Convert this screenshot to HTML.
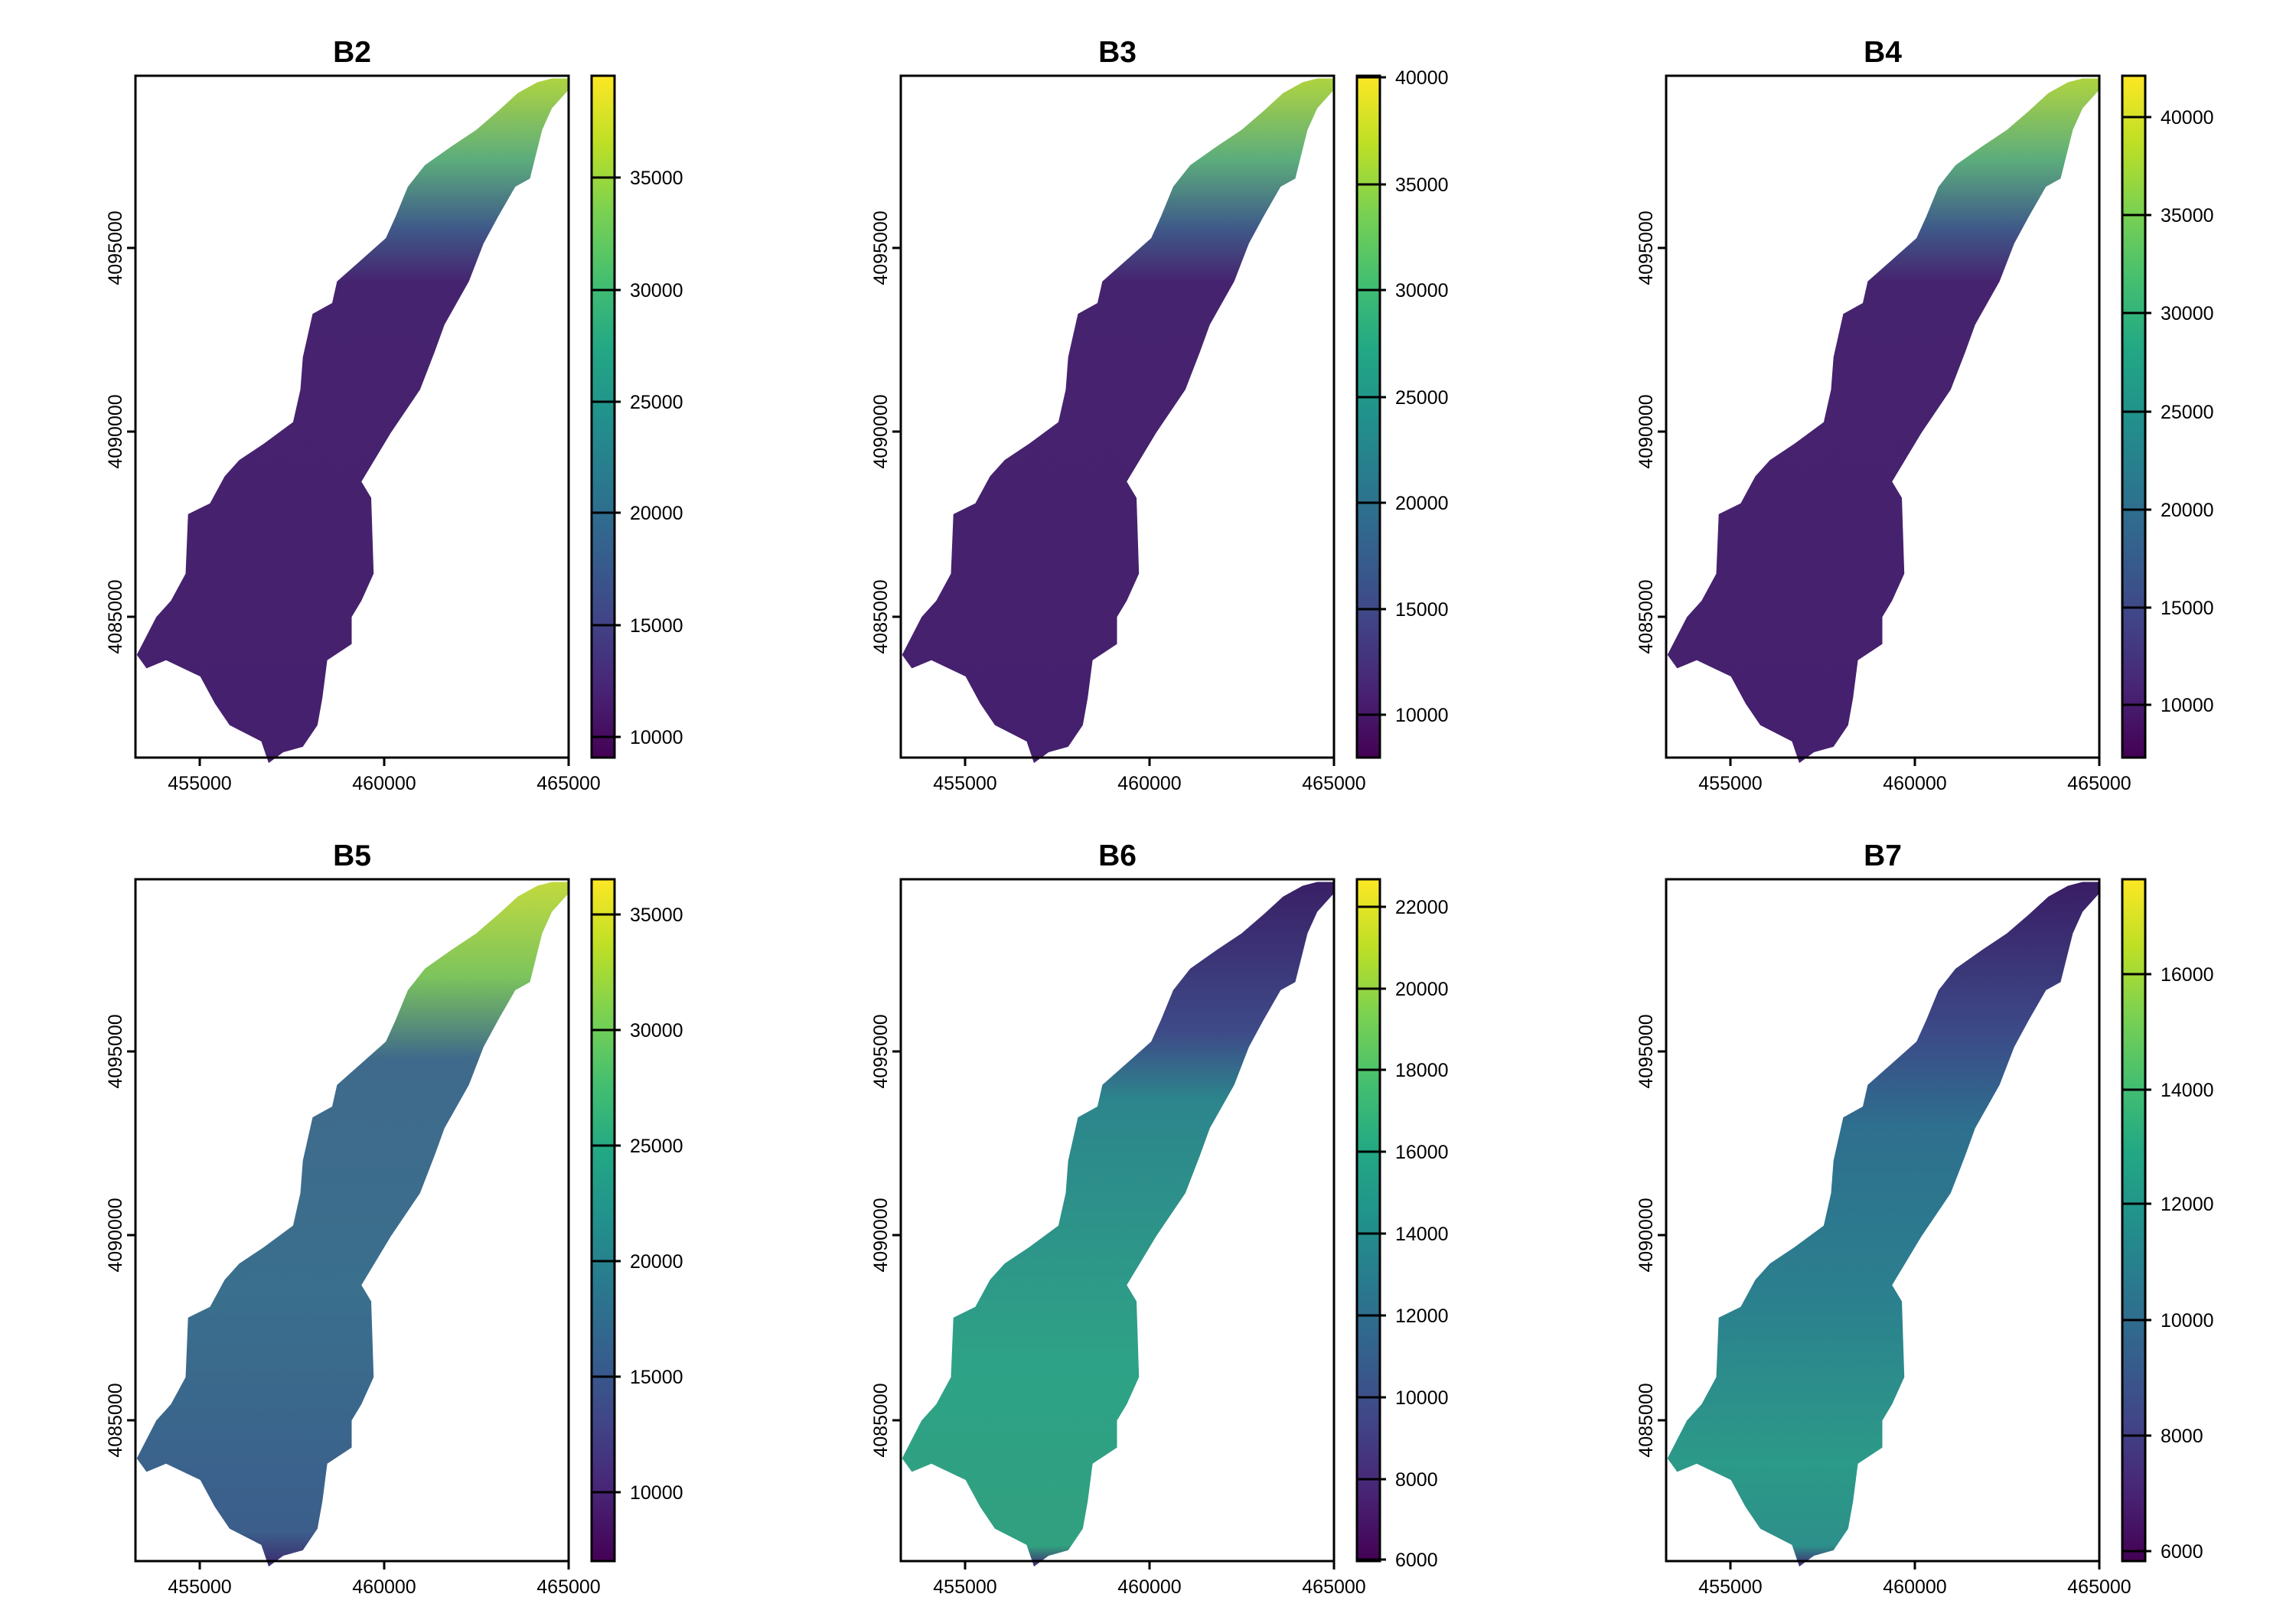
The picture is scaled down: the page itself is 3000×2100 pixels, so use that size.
<!DOCTYPE html>
<html><head><meta charset="utf-8"><style>body{margin:0;background:#fff}svg{display:block}text{font-family:"Liberation Sans",Arial,sans-serif}</style></head>
<body>
<svg width="3000" height="2100" viewBox="0 0 3000 2100" xmlns="http://www.w3.org/2000/svg">
<defs>
<linearGradient id="vir" x1="0" y1="1" x2="0" y2="0">
<stop offset="0" stop-color="#440154"/><stop offset="0.1" stop-color="#482475"/><stop offset="0.2" stop-color="#414487"/><stop offset="0.3" stop-color="#355f8d"/><stop offset="0.4" stop-color="#2a788e"/><stop offset="0.5" stop-color="#21918c"/><stop offset="0.6" stop-color="#22a884"/><stop offset="0.7" stop-color="#44bf70"/><stop offset="0.8" stop-color="#7ad151"/><stop offset="0.9" stop-color="#bddf26"/><stop offset="1" stop-color="#fde725"/>
</linearGradient>
<linearGradient id="gA" gradientUnits="userSpaceOnUse" x1="0" y1="142" x2="0" y2="1410">
<stop offset="0" stop-color="#b0d43e"/><stop offset="0.12" stop-color="#5cad7c"/><stop offset="0.22" stop-color="#3f5a89"/><stop offset="0.3" stop-color="#46236f"/><stop offset="1" stop-color="#45206e"/>
</linearGradient>
<linearGradient id="gB" gradientUnits="userSpaceOnUse" x1="0" y1="142" x2="0" y2="1410">
<stop offset="0" stop-color="#c3da3e"/><stop offset="0.14" stop-color="#7cc45c"/><stop offset="0.26" stop-color="#3f6a8b"/><stop offset="0.6" stop-color="#3a6f8d"/><stop offset="0.95" stop-color="#3b5e8b"/><stop offset="1" stop-color="#3d2a6e"/>
</linearGradient>
<linearGradient id="gC" gradientUnits="userSpaceOnUse" x1="0" y1="142" x2="0" y2="1410">
<stop offset="0" stop-color="#3a1f66"/><stop offset="0.22" stop-color="#3e4a88"/><stop offset="0.32" stop-color="#2c858c"/><stop offset="0.7" stop-color="#2ea286"/><stop offset="0.97" stop-color="#30a07f"/><stop offset="1" stop-color="#402a70"/>
</linearGradient>
<linearGradient id="gD" gradientUnits="userSpaceOnUse" x1="0" y1="142" x2="0" y2="1410">
<stop offset="0" stop-color="#3a1c64"/><stop offset="0.22" stop-color="#3c4a88"/><stop offset="0.36" stop-color="#2e6f8e"/><stop offset="0.6" stop-color="#2b7f8e"/><stop offset="0.85" stop-color="#2c9a88"/><stop offset="0.97" stop-color="#2d8f8a"/><stop offset="1" stop-color="#402a70"/>
</linearGradient>
<polygon id="shape" points="1165,145 1165,165 1130,200 1110,240 1085,330 1055,345 1020,400 990,450 960,520 910,600 890,650 860,720 800,800 740,890 760,920 765,1060 740,1110 720,1140 720,1190 670,1220 660,1290 650,1340 620,1380 580,1390 550,1410 535,1370 470,1340 440,1300 410,1250 340,1220 300,1235 280,1210 320,1140 350,1110 380,1060 385,950 430,930 460,880 490,850 540,820 600,780 615,720 620,660 640,580 680,560 690,520 740,480 790,440 810,400 835,345 870,305 925,270 975,240 1020,205 1060,172 1100,152 1130,145"/>
<g id="axes" fill="none" stroke="#000" stroke-width="3">
<rect x="177" y="99" width="566" height="891"/>
<path d="M261,990v11M502,990v11M743,990v11M177,324h-11M177,564h-11M177,806h-11"/>
</g>
<g id="axlab" font-size="25" fill="#000">
<text x="261" y="1032" text-anchor="middle">455000</text>
<text x="502" y="1032" text-anchor="middle">460000</text>
<text x="743" y="1032" text-anchor="middle">465000</text>
<text transform="translate(159,324) rotate(-90)" text-anchor="middle">4095000</text>
<text transform="translate(159,564) rotate(-90)" text-anchor="middle">4090000</text>
<text transform="translate(159,806) rotate(-90)" text-anchor="middle">4085000</text>
</g>
<rect id="cb" x="773" y="99" width="30" height="891" fill="url(#vir)" stroke="#000" stroke-width="3"/>
</defs>

<g transform="translate(0,0)">
<g transform="scale(0.6382,0.7072)"><use href="#shape" fill="url(#gA)"/></g>
<use href="#axes"/><use href="#axlab"/><use href="#cb"/>
<text x="460" y="81" font-size="39" font-weight="bold" text-anchor="middle">B2</text>
<g stroke="#000" stroke-width="3"><path d="M773,232h38M773,379h38M773,525h38M773,670h38M773,817h38M773,963h38"/></g>
<g font-size="25"><text x="823" y="241">35000</text><text x="823" y="388">30000</text><text x="823" y="534">25000</text><text x="823" y="679">20000</text><text x="823" y="826">15000</text><text x="823" y="972">10000</text></g>
</g>

<g transform="translate(1000,0)">
<g transform="scale(0.6382,0.7072)"><use href="#shape" fill="url(#gA)"/></g>
<use href="#axes"/><use href="#axlab"/><use href="#cb"/>
<text x="460" y="81" font-size="39" font-weight="bold" text-anchor="middle">B3</text>
<g stroke="#000" stroke-width="3"><path d="M773,101h38M773,241h38M773,379h38M773,519h38M773,657h38M773,796h38M773,934h38"/></g>
<g font-size="25"><text x="823" y="110">40000</text><text x="823" y="250">35000</text><text x="823" y="388">30000</text><text x="823" y="528">25000</text><text x="823" y="666">20000</text><text x="823" y="805">15000</text><text x="823" y="943">10000</text></g>
</g>

<g transform="translate(2000,0)">
<g transform="scale(0.6382,0.7072)"><use href="#shape" fill="url(#gA)"/></g>
<use href="#axes"/><use href="#axlab"/><use href="#cb"/>
<text x="460" y="81" font-size="39" font-weight="bold" text-anchor="middle">B4</text>
<g stroke="#000" stroke-width="3"><path d="M773,153h38M773,281h38M773,409h38M773,538h38M773,666h38M773,794h38M773,921h38"/></g>
<g font-size="25"><text x="823" y="162">40000</text><text x="823" y="290">35000</text><text x="823" y="418">30000</text><text x="823" y="547">25000</text><text x="823" y="675">20000</text><text x="823" y="803">15000</text><text x="823" y="930">10000</text></g>
</g>

<g transform="translate(0,1050)">
<g transform="scale(0.6382,0.7072)"><use href="#shape" fill="url(#gB)"/></g>
<use href="#axes"/><use href="#axlab"/><use href="#cb"/>
<text x="460" y="81" font-size="39" font-weight="bold" text-anchor="middle">B5</text>
<g stroke="#000" stroke-width="3"><path d="M773,145h38M773,296h38M773,447h38M773,598h38M773,749h38M773,900h38"/></g>
<g font-size="25"><text x="823" y="154">35000</text><text x="823" y="305">30000</text><text x="823" y="456">25000</text><text x="823" y="607">20000</text><text x="823" y="758">15000</text><text x="823" y="909">10000</text></g>
</g>

<g transform="translate(1000,1050)">
<g transform="scale(0.6382,0.7072)"><use href="#shape" fill="url(#gC)"/></g>
<use href="#axes"/><use href="#axlab"/><use href="#cb"/>
<text x="460" y="81" font-size="39" font-weight="bold" text-anchor="middle">B6</text>
<g stroke="#000" stroke-width="3"><path d="M773,135h38M773,242h38M773,348h38M773,455h38M773,562h38M773,669h38M773,776h38M773,883h38M773,988h38"/></g>
<g font-size="25"><text x="823" y="144">22000</text><text x="823" y="251">20000</text><text x="823" y="357">18000</text><text x="823" y="464">16000</text><text x="823" y="571">14000</text><text x="823" y="678">12000</text><text x="823" y="785">10000</text><text x="823" y="892">8000</text><text x="823" y="997">6000</text></g>
</g>

<g transform="translate(2000,1050)">
<g transform="scale(0.6382,0.7072)"><use href="#shape" fill="url(#gD)"/></g>
<use href="#axes"/><use href="#axlab"/><use href="#cb"/>
<text x="460" y="81" font-size="39" font-weight="bold" text-anchor="middle">B7</text>
<g stroke="#000" stroke-width="3"><path d="M773,223h38M773,374h38M773,523h38M773,675h38M773,826h38M773,977h38"/></g>
<g font-size="25"><text x="823" y="232">16000</text><text x="823" y="383">14000</text><text x="823" y="532">12000</text><text x="823" y="684">10000</text><text x="823" y="835">8000</text><text x="823" y="986">6000</text></g>
</g>
</svg>
</body></html>
